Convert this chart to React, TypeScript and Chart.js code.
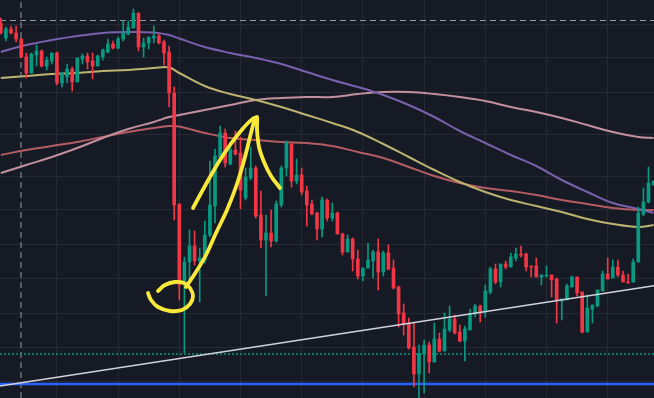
import { useEffect, useRef } from "react";
import { Chart, registerables } from "chart.js";

Chart.register(...registerables);

// Candle data (price units), one entry per bar index 0..128
const OPEN = [377,362,371,367,361,343,327,345,349,334,339,347,317,323,331,318,341,344,339,334,343,348,356,352,361,366,372,387,353,357,362,364,358,348,307,196,115,138,154,139,140,165,194,243,267,236,250,247,202,222,232,185,160,167,159,195,232,256,219,225,209,196,187,171,200,182,187,166,148,161,141,124,132,139,148,128,147,132,113,87,77,53,26,46,55,38,61,49,70,81,68,59,70,86,94,88,108,131,118,136,133,142,146,146,134,134,123,124,125,121,99,100,113,123,108,68,91,94,109,126,122,133,125,118,118,138,186,198,215];
const HIGH = [382,373,374,374,362,347,347,355,350,343,347,348,328,336,333,342,346,347,347,345,351,361,359,363,379,379,391,387,362,363,374,366,360,354,313,196,143,170,169,152,179,239,251,274,271,258,269,263,232,253,234,209,185,190,199,234,259,257,241,232,214,200,188,203,201,197,188,167,165,162,150,132,157,150,161,149,155,140,114,96,82,77,55,60,58,77,67,87,94,85,75,74,91,96,95,115,133,136,136,139,147,152,154,147,134,142,125,134,125,122,101,116,124,123,108,105,95,110,129,142,140,140,129,126,141,193,212,233,219];
const LOW = [366,359,366,358,342,322,327,334,333,330,336,315,313,317,309,318,336,331,321,334,340,347,351,351,359,365,372,349,343,351,357,356,335,293,180,100,47,120,135,98,137,163,177,242,233,235,245,191,200,220,182,152,104,153,158,193,224,213,216,205,174,185,160,163,179,179,166,145,148,129,121,119,132,122,110,124,130,111,73,65,51,13,2,7,27,38,48,49,68,66,58,39,70,83,78,83,106,116,113,131,133,139,143,129,123,123,115,123,103,77,80,100,113,104,67,68,77,93,109,121,122,123,118,117,118,138,184,197,215];
const CLOSE = [367,371,367,361,343,327,346,349,334,340,347,317,327,331,318,342,344,338,334,344,350,356,352,361,367,373,387,353,357,363,364,357,347,307,195,115,138,154,139,142,165,195,244,267,237,250,246,210,223,232,184,160,167,159,196,232,257,219,225,208,195,186,171,200,182,187,166,148,161,141,124,132,140,148,128,147,131,112,86,76,52,26,46,55,38,61,49,71,81,67,59,71,86,94,87,109,131,118,136,133,143,146,145,133,133,123,125,125,120,99,101,114,123,107,68,92,95,110,126,121,133,125,118,117,138,187,198,217,219];

// Moving averages, sampled at bar indices
const MA_X = [0,5,10,15,20,25,30,33,35,40,45,50,55,60,65,70,75,80,85,90,95,100,105,110,115,120,125,128];
const MA_PURPLE = [348,355,360,364,367,368,367.5,365,361.5,353,347,342,336,328,320,313,305,295,283,269,257,245,234,220,208,197,191,187];
const MA_OLIVE = [322,324,326,327,329,330,332,332.5,327,314,306,300,293,285,277,268,256,243,230,218,208,200,194,188,181,176,173,175];
const MA_PINK = [227,235,243,252,262,271,278,283,285,290,295,300,302,303,303,306,308,308,306,303,299,293,288,282,275,268,263,262];
const MA_RED = [245,250,254,258,263,268,272,274,273.5,267,262,260,258,257,254,248,242,233,224,217,212,209,205,200,196,192,190,190];

// Levels and trendline
const TREND_X = [-0.157, 128.08];
const TREND_Y = [14.1, 114.3];
const SUPPORT_LEVEL = 16;
const DOTTED_LEVEL = 46;
const CROSS_PRICE = 379.5;
const CROSS_INDEX = 3.96;

// Hand-drawn yellow marks (bar index, price)
const LOOP_X = [30.82,32.2,34.16,35.92,37.1,37.69,37.1,35.53,33.18,30.82,29.45,28.86];
const LOOP_Y = [109,115,118,117,112,104,96,90,89,93,100,107];
const SWOOSH_X = [36.31,38.27,40.24,42.2,44.35,46.31,47.88,49.06,49.84,50.24,50.24,50.63,51.61,52.98,54.75];
const SWOOSH_Y = [113,128,145,167,190,216,243,267,281,283,270,253,238,224,212];
const STROKE_X = [37.69,39.06,41.02,42.98,44.94,46.9,48.47,49.65];
const STROKE_Y = [192,205,223,240,255,268,277,282];

const X_GRID = [11,23,35,47,59,71,83,95,107,119];
const Y_GRID = [375,342,308,266,224,190,156,122,87,53,19];
const X_MIN = -0.157;
const X_MAX = 128.08;
const Y_MIN = 2;
const Y_MAX = 400;

const UP = "#089981";
const DOWN = "#f23645";

function pts(xs: number[], ys: number[]) {
  return xs.map((x, i) => ({ x, y: ys[i] }));
}

function line(data: any[], color: string, width: number, order: number, extra: any = {}) {
  return {
    type: "line",
    data,
    borderColor: color,
    backgroundColor: color,
    borderWidth: width,
    pointRadius: 0,
    fill: false,
    order,
    ...extra,
  };
}

export default function App() {
  const ref = useRef<HTMLCanvasElement>(null);
  useEffect(() => {
    document.body.style.margin = "0";
    const idx = OPEN.map((_, i) => i);
    const colors = idx.map((i) => (CLOSE[i] >= OPEN[i] ? UP : DOWN));
    const gridOpts = { color: "#252935", lineWidth: 1, drawTicks: false, offset: false };
    const yellow = { tension: 0.3, borderCapStyle: "round", borderJoinStyle: "round" };
    const chart = new Chart(ref.current!, {
      type: "bar",
      data: {
        datasets: [
          line(pts(STROKE_X, STROKE_Y), "#fbe93a", 3.8, 0, yellow),
          line(pts(SWOOSH_X, SWOOSH_Y), "#fbe93a", 3.8, 0, yellow),
          line(pts(LOOP_X, LOOP_Y), "#fbe93a", 3.8, 0, { ...yellow, tension: 0.4 }),
          line(pts(TREND_X, TREND_Y), "#d1d4dc", 1.5, 1),
          {
            type: "bar",
            data: idx.map((i) => ({ x: i, y: [OPEN[i], CLOSE[i]] })),
            backgroundColor: colors,
            borderWidth: 0,
            barThickness: 3,
            minBarLength: 1,
            grouped: false,
            order: 2,
          },
          {
            type: "bar",
            data: idx.map((i) => ({ x: i, y: [LOW[i], HIGH[i]] })),
            backgroundColor: colors,
            borderWidth: 0,
            barThickness: 1,
            grouped: false,
            order: 3,
          },
          line(pts([X_MIN, X_MAX], [SUPPORT_LEVEL, SUPPORT_LEVEL]), "#2962ff", 2.5, 4),
          line(pts([X_MIN, X_MAX], [DOTTED_LEVEL, DOTTED_LEVEL]), "#0aa88d", 1.3, 4, { borderDash: [2, 2] }),
          line(pts([X_MIN, X_MAX], [CROSS_PRICE, CROSS_PRICE]), "#9598a1", 1, 4, { borderDash: [6, 4] }),
          line(pts([CROSS_INDEX, CROSS_INDEX], [Y_MIN, Y_MAX]), "#9598a1", 1, 4, { borderDash: [6, 4] }),
          line(pts(MA_X, MA_PURPLE), "#7a61ad", 2, 5, { tension: 0.4 }),
          line(pts(MA_X, MA_OLIVE), "#bdb470", 2, 5, { tension: 0.4 }),
          line(pts(MA_X, MA_PINK), "#c3909e", 2, 5, { tension: 0.4 }),
          line(pts(MA_X, MA_RED), "#b55c62", 2, 5, { tension: 0.4 }),
        ] as any,
      },
      options: {
        animation: false,
        responsive: false,
        events: [],
        layout: { padding: 0 },
        plugins: { legend: { display: false }, tooltip: { enabled: false }, title: { display: false } },
        scales: {
          x: {
            type: "linear",
            min: X_MIN,
            max: X_MAX,
            offset: false,
            grid: gridOpts,
            border: { display: false },
            ticks: { display: false },
            afterBuildTicks: (axis: any) => {
              axis.ticks = X_GRID.map((v) => ({ value: v }));
            },
          },
          y: {
            type: "linear",
            min: Y_MIN,
            max: Y_MAX,
            grid: gridOpts,
            border: { display: false },
            ticks: { display: false },
            afterBuildTicks: (axis: any) => {
              axis.ticks = Y_GRID.map((v) => ({ value: v }));
            },
          },
        },
      } as any,
    });
    return () => chart.destroy();
  }, []);
  return (
    <div style={{ width: 654, height: 398, background: "#161a25" }}>
      <canvas ref={ref} width={654} height={398} style={{ display: "block" }} />
    </div>
  );
}
